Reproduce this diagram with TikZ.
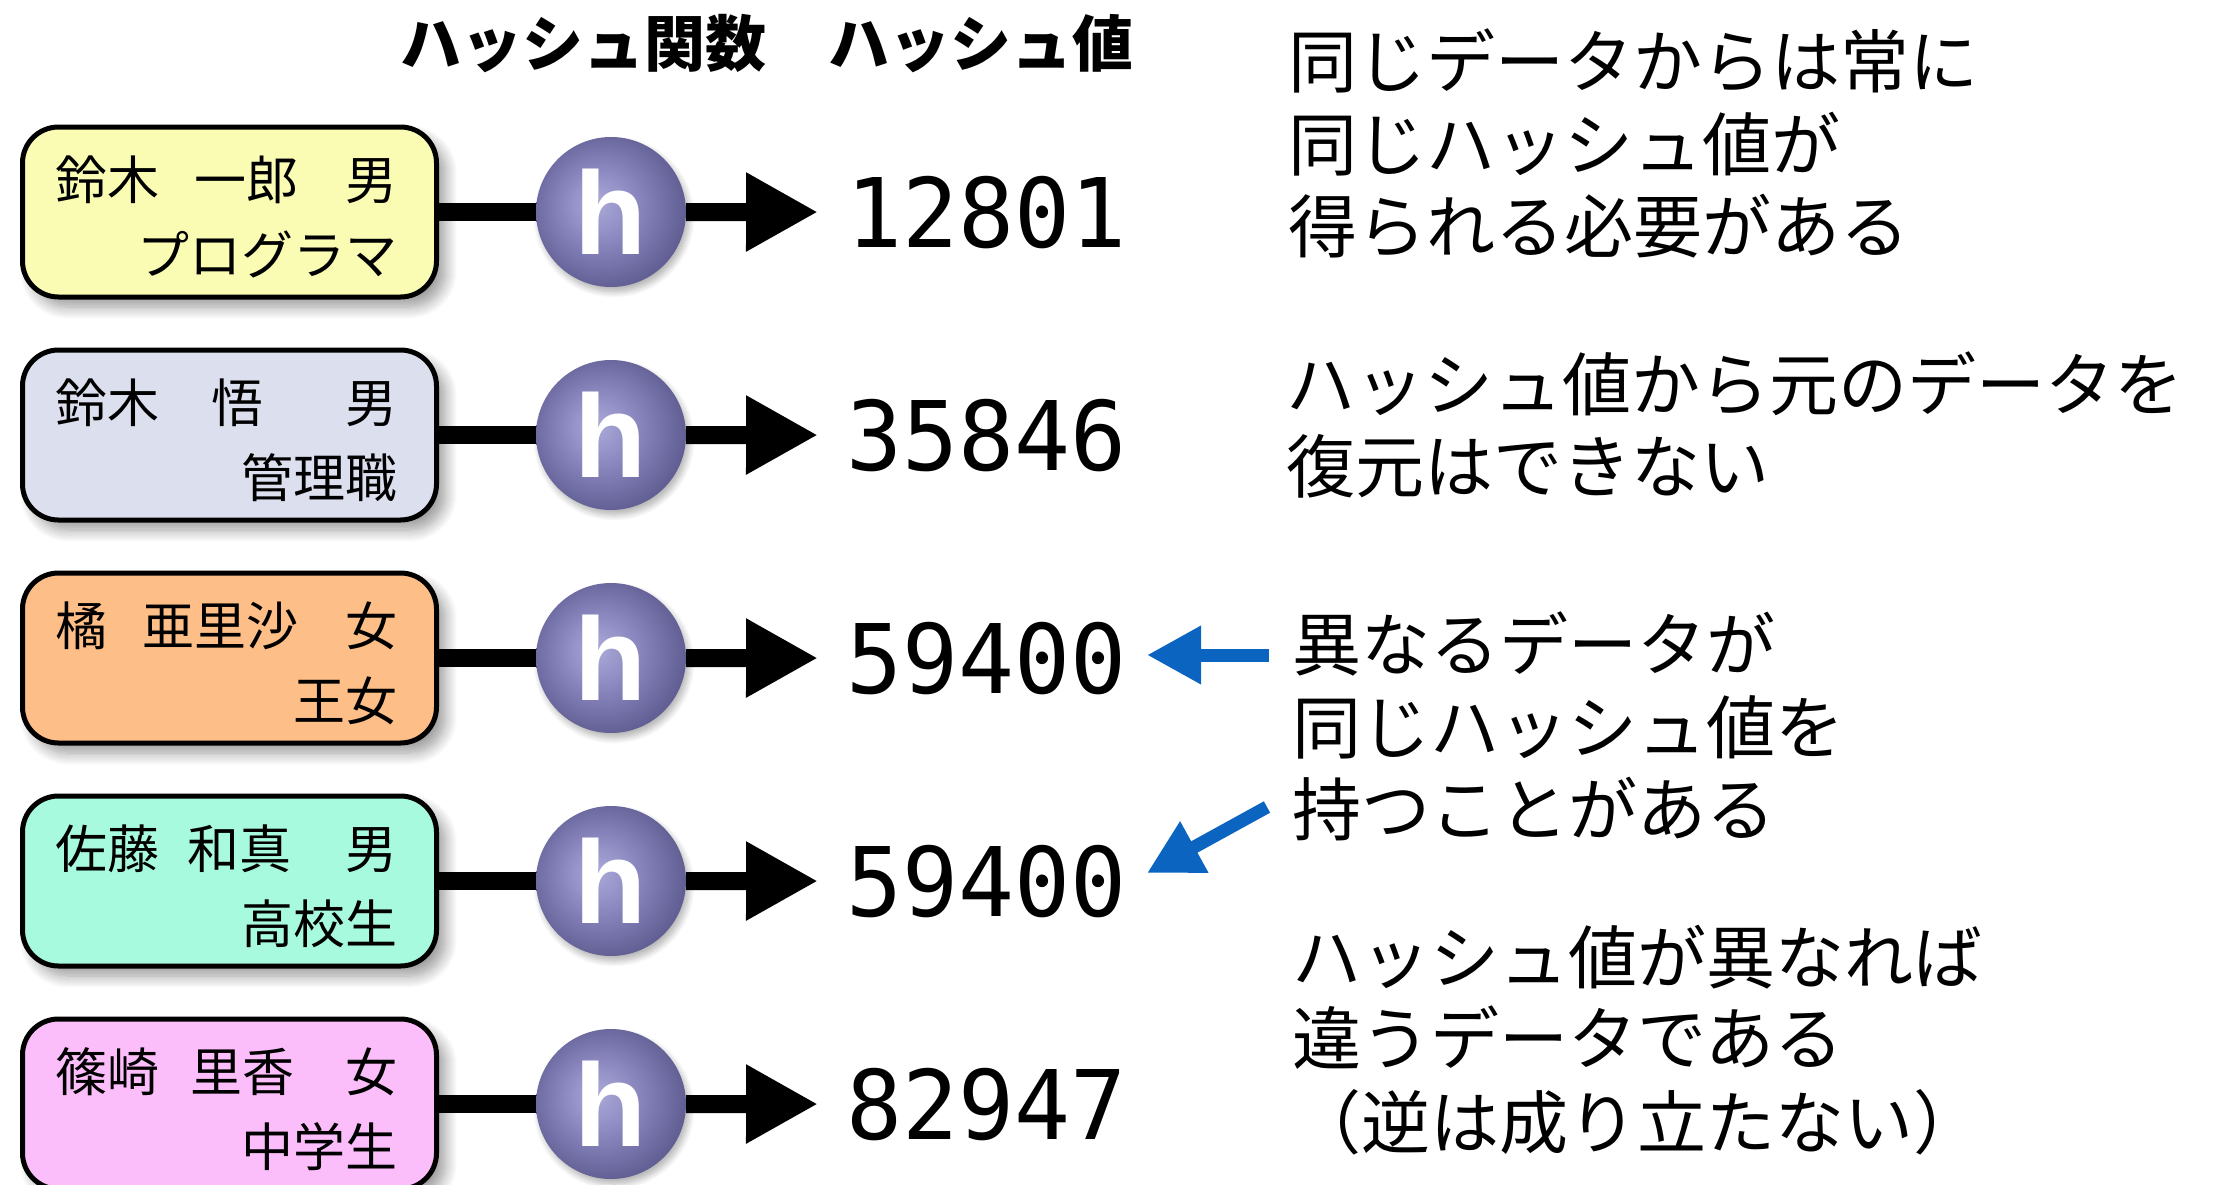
\documentclass[tikz,border=0pt]{standalone}
\usepackage{fontspec}
\setmainfont{Noto Sans CJK JP}
\newfontfamily\numfont{DejaVu Sans Mono}[FakeStretch=0.97]
\newfontfamily\hfont{Liberation Sans}
\usetikzlibrary{arrows.meta,shadows.blur}
\definecolor{cyel}{RGB}{250,252,180}
\definecolor{clav}{RGB}{220,223,238}
\definecolor{cora}{RGB}{253,190,135}
\definecolor{cmin}{RGB}{168,250,222}
\definecolor{cpin}{RGB}{252,190,250}
\definecolor{cblue}{RGB}{10,100,192}
\definecolor{hbA}{RGB}{172,170,216}
\definecolor{hbB}{RGB}{144,142,196}
\definecolor{hbC}{RGB}{116,114,168}
\definecolor{hbD}{RGB}{88,86,138}
\pgfdeclareradialshading{hball}{\pgfpoint{-5bp}{3bp}}{color(0bp)=(hbA); color(10bp)=(hbB); color(20bp)=(hbC); color(30bp)=(hbD); color(50bp)=(hbD)}
\begin{document}
\begin{tikzpicture}[x=1pt,y=-1pt,
  databox/.style={draw=black, line width=5pt, rounded corners=36pt,
    minimum width=414pt, minimum height=170pt, inner sep=0pt,
    blur shadow={shadow xshift=9pt, shadow yshift=-10pt, shadow opacity=40,
      shadow blur radius=12pt, shadow blur steps=12}},
  boxtext/.style={inner sep=0pt, font=\fontsize{52}{52}\selectfont},
  hnode/.style={circle, minimum size=150pt, inner sep=0pt, shade, shading=hball,
    text=white, font=\hfont\bfseries\fontsize{118}{118}\selectfont,
    blur shadow={shadow xshift=3pt, shadow yshift=-5pt, shadow opacity=30,
      shadow blur radius=6pt, shadow blur steps=8}},
  numtext/.style={anchor=base west, inner sep=0pt, font=\numfont\fontsize{96}{96}\selectfont},
  rtext/.style={anchor=base west, inner sep=0pt, font=\fontsize{69}{69}\selectfont},
  hdr/.style={anchor=base west, inner sep=0pt, font=\bfseries\fontsize{61}{61}\selectfont},
  thick line/.style={line width=18pt},
  harrow/.style={line width=18pt, -{Triangle[length=72pt,width=74pt]}, shorten >=28pt},
  bluearrow/.style={draw=cblue, line width=13pt, -{Triangle[length=54pt,width=55pt]}}
]
\useasboundingbox (0,0) rectangle (2219,1184);

% header
\node[hdr] (hd1) at (400,66) {ハッシュ関数};
\node[hdr] (hd2) at (828,66) {ハッシュ値};

% rows
\foreach \i/\y/\c/\nm/\sx/\job/\num in {
  1/212/cyel/{鈴木\hspace{0.68em}一郎}/男/プログラマ/12801,
  2/435/clav/{鈴木　悟}/男/管理職/35846,
  3/658/cora/{橘\hspace{0.68em}亜里沙}/女/王女/59400,
  4/881/cmin/{佐藤\hspace{0.55em}和真}/男/高校生/59400,
  5/1104/cpin/{篠崎\hspace{0.6em}里香}/女/中学生/82947}{
  \node[databox, fill=\c] (b\i) at (229.5,\y) {};
  \node[boxtext, anchor=base west] (nm\i) at (55,\y-13) {\nm};
  \node[boxtext, anchor=base east] (sx\i) at (398,\y-13) {\sx};
  \node[boxtext, anchor=base east] (jb\i) at (398,\y+62) {\job};
  \node[numtext] (n\i) at (846,\y+35) {\num};
  \coordinate (hc\i) at (611,\y);
  \draw[thick line] (b\i.east) -- (hc\i);
  \node[hnode] (h\i) at (hc\i) {h};
  \draw[harrow] (h\i.east) -- (n\i.west);
}

% right texts
\node[rtext] (r11) at (1288,87) {同じデータからは常に};
\node[rtext] (r12) at (1288,170) {同じハッシュ値が};
\node[rtext] (r13) at (1288,252) {得られる必要がある};

\node[rtext] (r21) at (1286,410) {ハッシュ値から元のデータを};
\node[rtext] (r22) at (1286,492) {復元はできない};

\node[rtext] (r31) at (1292,670) {異なるデータが};
\node[rtext] (r32) at (1292,753) {同じハッシュ値を};
\node[rtext] (r33) at (1292,835) {持つことがある};

\node[rtext] (r41) at (1292,983) {ハッシュ値が異なれば};
\node[rtext] (r42) at (1292,1064) {違うデータである};
\node[rtext] (r43) at (1292,1148) {（逆は成り立たない）};

% blue arrows
\coordinate (a1) at (1269,655);
\coordinate (a2) at (1267,807);
\coordinate (t1) at (1147,655);
\coordinate (t2) at (1147,873);
\draw[bluearrow] (a1) -- (t1);
\draw[bluearrow] (a2) -- (t2);
\end{tikzpicture}
\end{document}
